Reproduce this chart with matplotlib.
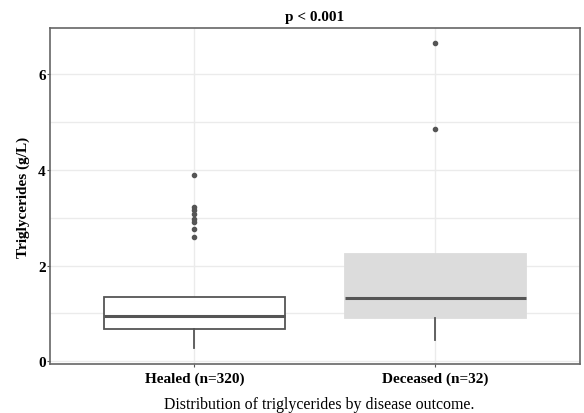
import matplotlib.pyplot as plt

plt.rcParams['font.family'] = ['Liberation Serif', 'DejaVu Serif']

groups = ['Healed (n=320)', 'Deceased (n=32)']
q1 = [0.68, 0.90]
median = [0.95, 1.32]
q3 = [1.35, 2.24]
whisker_low = [0.27, 0.45]
whisker_high = [1.35, 2.24]
outliers = [
    [3.88, 3.22, 3.15, 3.08, 2.98, 2.90, 2.76, 2.60],
    [6.65, 4.85],
]
box_fill = ['white', '#dcdcdc']
box_edge = ['#555555', '#dcdcdc']

fig = plt.figure(figsize=(5.84, 4.14), dpi=100)
ax = fig.add_axes([0.0856, 0.118, 0.907, 0.812])

stats = []
for i, g in enumerate(groups):
    stats.append({'label': g, 'q1': q1[i], 'med': median[i], 'q3': q3[i],
                  'whislo': whisker_low[i], 'whishi': whisker_high[i],
                  'fliers': outliers[i]})

for i, s in enumerate(stats):
    ax.bxp([s], positions=[i + 1], widths=0.75, patch_artist=True,
           showcaps=False,
           boxprops=dict(facecolor=box_fill[i], edgecolor=box_edge[i], linewidth=1.3),
           medianprops=dict(color='#555555', linewidth=2.2),
           whiskerprops=dict(color='#555555', linewidth=1.3),
           flierprops=dict(marker='o', markersize=3, markerfacecolor='#555555',
                           markeredgecolor='#555555'),
           zorder=3)

ax.set_xlim(0.4, 2.6)
ax.set_ylim(-0.06, 6.96)
ax.set_xticks([1, 2])
ax.set_xticklabels(groups, fontsize=11, fontweight='bold')
ax.set_yticks([0, 2, 4, 6])
ax.set_yticklabels(['0', '2', '4', '6'], fontsize=11, fontweight='bold')
ax.set_yticks([1, 3, 5], minor=True)
ax.grid(True, which='both', color='#ebebeb', linewidth=1, zorder=0)
ax.set_axisbelow(True)
ax.tick_params(axis='both', length=2, color='#555555', pad=1)
ax.tick_params(axis='x', pad=3)
ax.tick_params(axis='y', which='minor', length=0)
for sp in ax.spines.values():
    sp.set_color('#666666')
    sp.set_linewidth(1.2)

ax.set_ylabel('Triglycerides (g/L)', fontsize=11, fontweight='bold', labelpad=6)
ax.set_title('p < 0.001', fontsize=11, fontweight='bold', pad=6)

fig.text(0.547, 0.012, 'Distribution of triglycerides by disease outcome.',
         ha='center', fontsize=11.4)

fig.savefig('out.png', dpi=100)
